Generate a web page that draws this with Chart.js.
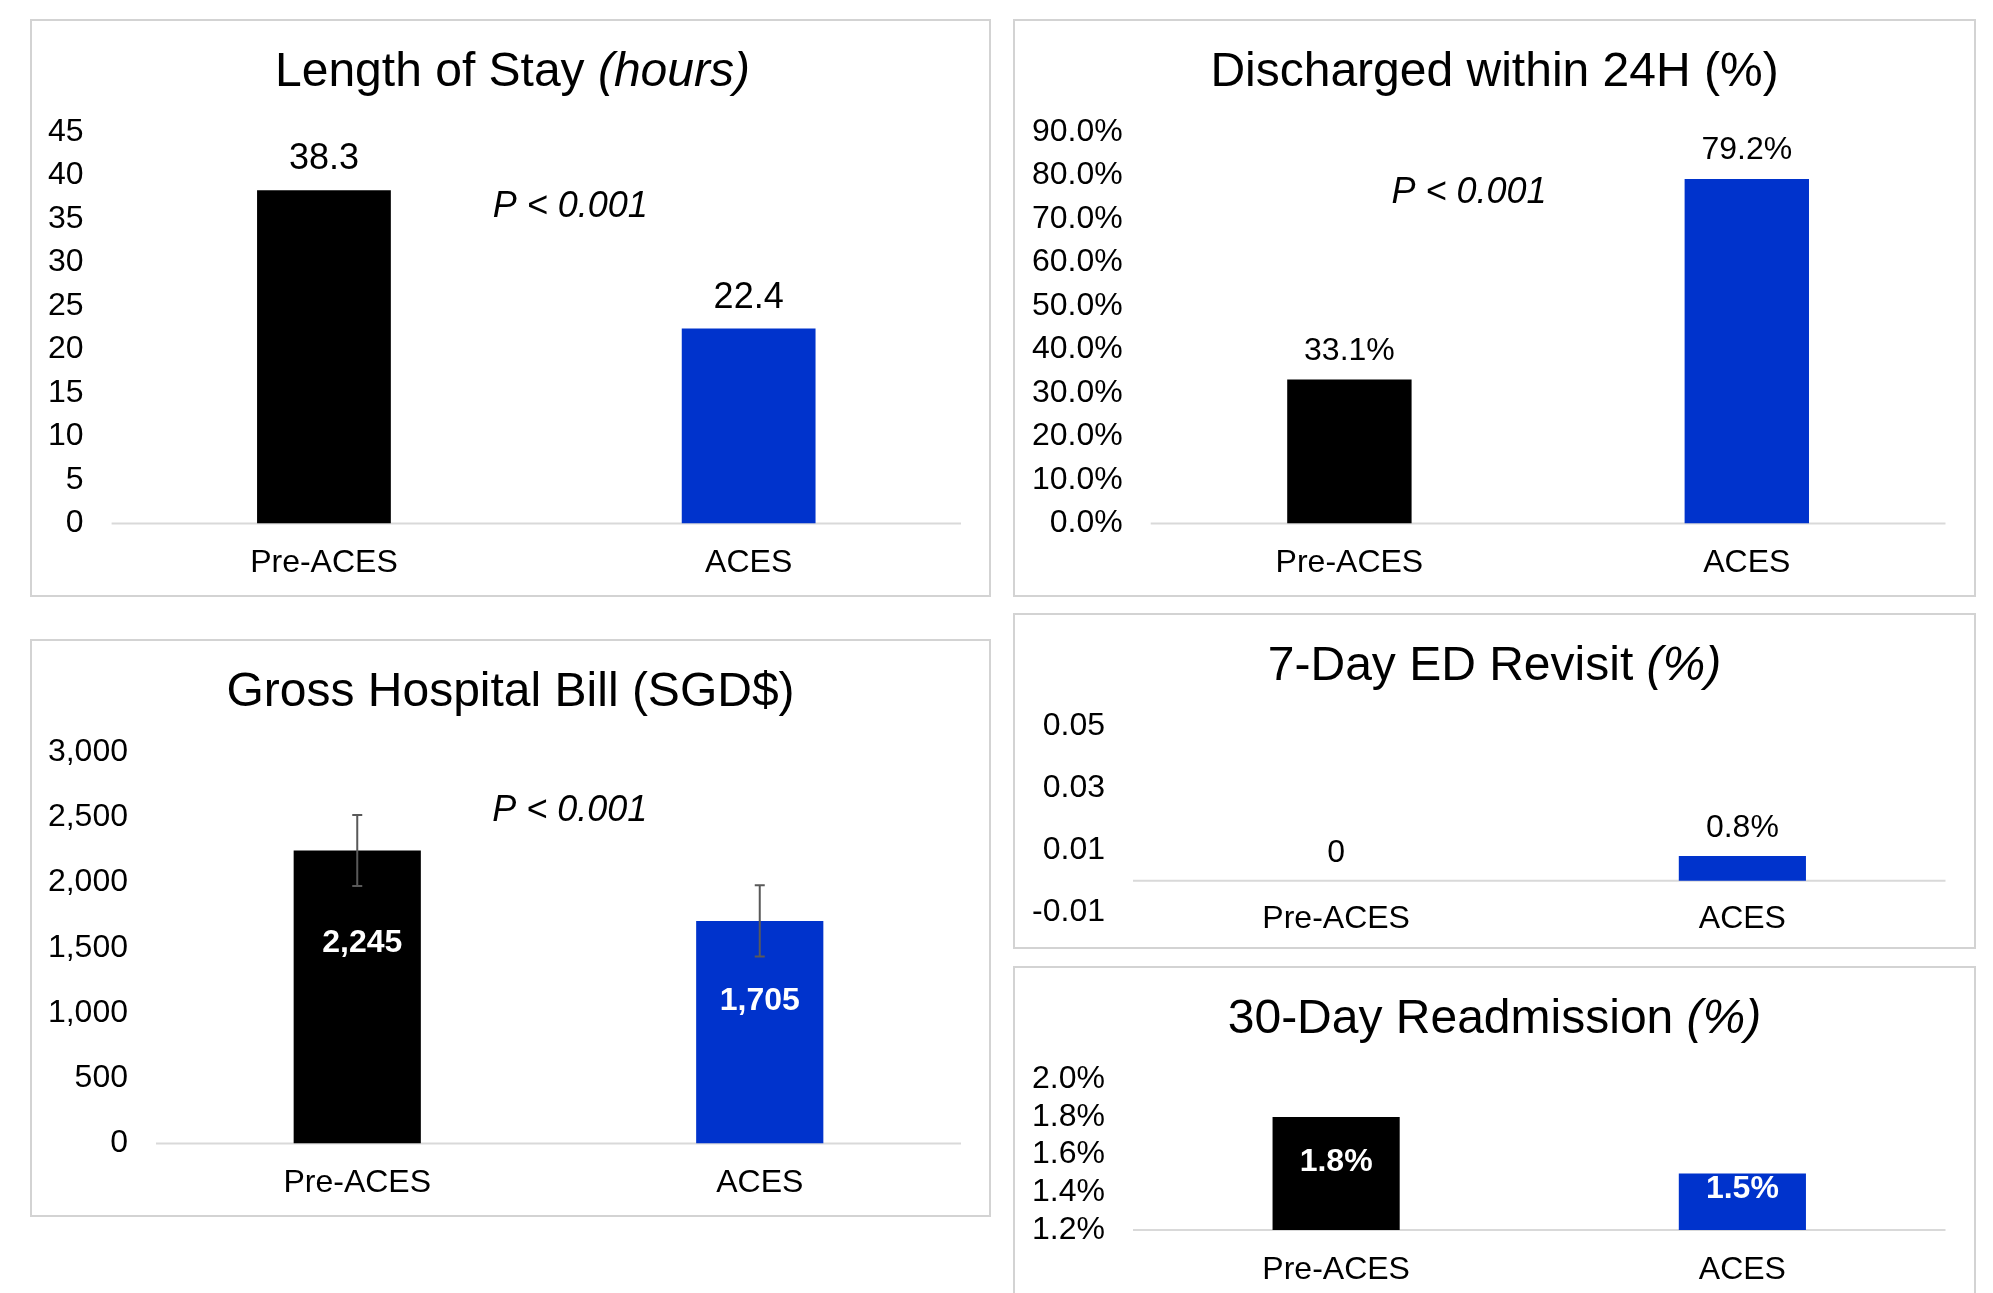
<!DOCTYPE html>
<html>
<head>
<meta charset="utf-8">
<script src="https://cdn.jsdelivr.net/npm/chart.js@4.4.1/dist/chart.umd.min.js"></script>
<style>
  html, body { margin: 0; padding: 0; background: #ffffff; width: 1993px; height: 1293px; overflow: hidden; }
  canvas { position: absolute; }
  .frame { position: absolute; box-sizing: border-box; border: 2px solid #d3d3d3; pointer-events: none; }
</style>
</head>
<body>
<canvas id="c1"></canvas><div class="frame" id="f1"></div>
<canvas id="c2"></canvas><div class="frame" id="f2"></div>
<canvas id="c3"></canvas><div class="frame" id="f3"></div>
<canvas id="c4"></canvas><div class="frame" id="f4"></div>
<canvas id="c5"></canvas><div class="frame" id="f5"></div>
<script>
// ---------------- data ----------------
const categories = ['Pre-ACES', 'ACES'];
const barColors = ['#000000', '#0033CC'];

const losValues = [38.3, 22.4];                 // hours
const losTicks = [0, 5, 10, 15, 20, 25, 30, 35, 40, 45];

const dischargeValues = [33.1, 79.2];           // %
const dischargeTicks = [0, 10, 20, 30, 40, 50, 60, 70, 80, 90];

const billValues = [2245, 1705];                // SGD$
const billErrors = [272, 273];                  // +/- error bar
const billTicks = [0, 500, 1000, 1500, 2000, 2500, 3000];

const revisitValues = [0, 0.008];               // fraction
const revisitTicks = [-0.01, 0.01, 0.03, 0.05];

const readmitValues = [1.8, 1.5];               // %
const readmitTicks = [1.2, 1.4, 1.6, 1.8, 2.0];

const pValueText = 'P < 0.001';

// ---------------- drawing ----------------
const FONT = '"Liberation Sans", Arial, Helvetica, sans-serif';

const annotPlugin = {
  id: 'annot',
  beforeDatasetsDraw(chart, args, o) {
    const ctx = chart.ctx, area = chart.chartArea, y = chart.scales.y;
    const by = y.getBasePixel();
    ctx.save();
    ctx.strokeStyle = '#d9d9d9';
    ctx.lineWidth = 2;
    ctx.beginPath();
    ctx.moveTo(area.left, by);
    ctx.lineTo(area.right, by);
    ctx.stroke();
    ctx.restore();
  },
  afterDatasetsDraw(chart, args, o) {
    const ctx = chart.ctx, area = chart.chartArea, y = chart.scales.y;
    const meta = chart.getDatasetMeta(0);
    const vals = chart.data.datasets[0].data;
    const base = y.getBasePixel();
    ctx.save();
    if (o.errors) {
      ctx.strokeStyle = '#595959';
      ctx.lineWidth = 2;
      meta.data.forEach((bar, i) => {
        const hi = y.getPixelForValue(vals[i] + o.errors[i]);
        const lo = y.getPixelForValue(vals[i] - o.errors[i]);
        ctx.beginPath();
        ctx.moveTo(bar.x, hi); ctx.lineTo(bar.x, lo);
        ctx.moveTo(bar.x - 5, hi); ctx.lineTo(bar.x + 5, hi);
        ctx.moveTo(bar.x - 5, lo); ctx.lineTo(bar.x + 5, lo);
        ctx.stroke();
      });
    }
    ctx.textAlign = 'center';
    ctx.textBaseline = 'middle';
    meta.data.forEach((bar, i) => {
      const txt = o.fmtLabel(vals[i]);
      if (o.inside) {
        ctx.font = 'bold 32px ' + FONT;
        ctx.fillStyle = '#ffffff';
        const yy = base - o.inside[i] * (base - bar.y);
        const dx = o.insideDx ? o.insideDx[i] : 0;
        ctx.fillText(txt, bar.x + dx, yy);
      } else {
        ctx.font = o.labelSize + 'px ' + FONT;
        ctx.fillStyle = '#000000';
        ctx.fillText(txt, bar.x, bar.y - o.labelOffset);
      }
    });
    if (o.pPos) {
      ctx.font = 'italic 36px ' + FONT;
      ctx.fillStyle = '#000000';
      ctx.textBaseline = 'alphabetic';
      ctx.fillText(pValueText, area.left + o.pPos[0] * area.width, area.top + o.pPos[1] * area.height);
    }
    ctx.restore();
  },
  afterDraw(chart, args, o) {
    const ctx = chart.ctx;
    ctx.save();
    ctx.fillStyle = '#000000';
    ctx.textBaseline = 'alphabetic';
    ctx.textAlign = 'left';
    const fonts = o.title.map(s => (s.italic ? 'italic ' : '') + '48px ' + FONT);
    let total = 0;
    const widths = o.title.map((s, i) => { ctx.font = fonts[i]; const w = ctx.measureText(s.text).width; total += w; return w; });
    let x = o.titleCx - total / 2;
    o.title.forEach((s, i) => { ctx.font = fonts[i]; ctx.fillText(s.text, x, 67); x += widths[i]; });
    ctx.restore();
  }
};

function makeChart(id, frameId, cfg) {
  const canvas = document.getElementById(id);
  canvas.width = cfg.w; canvas.height = cfg.h;
  canvas.style.left = cfg.left + 'px'; canvas.style.top = cfg.top + 'px';
  const f = document.getElementById(frameId);
  f.style.left = cfg.left + 'px'; f.style.top = cfg.top + 'px';
  f.style.width = cfg.w + 'px'; f.style.height = (cfg.frameH || cfg.h) + 'px';
  cfg.annot.titleCx = cfg.w / 2 + (cfg.titleShift || 0);
  const tks = cfg.ticks;
  return new Chart(canvas, {
    type: 'bar',
    data: {
      labels: categories,
      datasets: [{ data: cfg.values, backgroundColor: barColors, borderWidth: 0,
                   barPercentage: cfg.barPct, categoryPercentage: 1 }]
    },
    options: {
      responsive: false, animation: false, devicePixelRatio: 1,
      layout: { padding: { left: 0, right: cfg.padRight, top: cfg.padTop, bottom: 0 } },
      plugins: {
        legend: { display: false }, tooltip: { enabled: false }, title: { display: false },
        annot: cfg.annot
      },
      scales: {
        x: {
          grid: { display: false, drawTicks: false }, border: { display: false },
          ticks: { color: '#000000', font: { family: FONT, size: 32 }, padding: cfg.xPad,
                   mirror: !!cfg.xMirror, maxRotation: 0, minRotation: 0, autoSkip: false },
          afterFit: s => { s.height = cfg.xHeight; }
        },
        y: {
          min: tks[0], max: tks[tks.length - 1],
          grid: { display: false, drawTicks: false }, border: { display: false },
          ticks: { color: '#000000', font: { family: FONT, size: 32 }, padding: 28,
                   autoSkip: false, callback: cfg.fmtTick },
          afterBuildTicks: s => { s.ticks = tks.map(v => ({ value: v })); },
          afterFit: s => { s.width = cfg.yWidth; }
        }
      }
    },
    plugins: [annotPlugin]
  });
}

makeChart('c1', 'f1', {
  left: 30, top: 19, w: 961, h: 578, padTop: 113, padRight: 30, yWidth: 81.6, xHeight: 73.5, xPad: 20,
  values: losValues, ticks: losTicks, barPct: 0.315, fmtTick: v => String(v), titleShift: 2,
  annot: { title: [{ text: 'Length of Stay ' }, { text: '(hours)', italic: true }],
           fmtLabel: v => v.toFixed(1), labelSize: 36, labelOffset: 31, pPos: [0.54, 0.218] }
});

makeChart('c2', 'f2', {
  left: 1013, top: 19, w: 963, h: 578, padTop: 113, padRight: 30.5, yWidth: 137.7, xHeight: 73.5, xPad: 20,
  values: dischargeValues, ticks: dischargeTicks, barPct: 0.313, fmtTick: v => v.toFixed(1) + '%',
  annot: { title: [{ text: 'Discharged within 24H (%)' }],
           fmtLabel: v => v.toFixed(1) + '%', labelSize: 32, labelOffset: 28.5, pPos: [0.4005, 0.181] }
});

makeChart('c3', 'f3', {
  left: 30, top: 639, w: 961, h: 578, padTop: 113, padRight: 30, yWidth: 126, xHeight: 73.5, xPad: 20,
  values: billValues, ticks: billTicks, barPct: 0.316, fmtTick: v => v.toLocaleString('en-US'),
  annot: { title: [{ text: 'Gross Hospital Bill (SGD$)' }], errors: billErrors,
           fmtLabel: v => v.toLocaleString('en-US'), inside: [0.685, 0.64], insideDx: [5, 0],
           pPos: [0.514, 0.176] }
});

makeChart('c4', 'f4', {
  left: 1013, top: 613, w: 963, h: 346, frameH: 336, padTop: 113, padRight: 30.5, yWidth: 120, xHeight: 47.3,
  xPad: -26.7, xMirror: true,
  values: revisitValues, ticks: revisitTicks, barPct: 0.313, fmtTick: v => v.toFixed(2),
  annot: { title: [{ text: '7-Day ED Revisit ' }, { text: '(%)', italic: true }],
           fmtLabel: v => v === 0 ? '0' : (v * 100).toFixed(1) + '%', labelSize: 32, labelOffset: 27.5 }
});

makeChart('c5', 'f5', {
  left: 1013, top: 966, w: 963, h: 340, padTop: 113.3, padRight: 30.5, yWidth: 120, xHeight: 76, xPad: 20.5,
  values: readmitValues, ticks: readmitTicks, barPct: 0.313, fmtTick: v => v.toFixed(1) + '%',
  annot: { title: [{ text: '30-Day Readmission ' }, { text: '(%)', italic: true }],
           fmtLabel: v => v.toFixed(1) + '%', inside: [0.6, 0.73] }
});
</script>
</body>
</html>
